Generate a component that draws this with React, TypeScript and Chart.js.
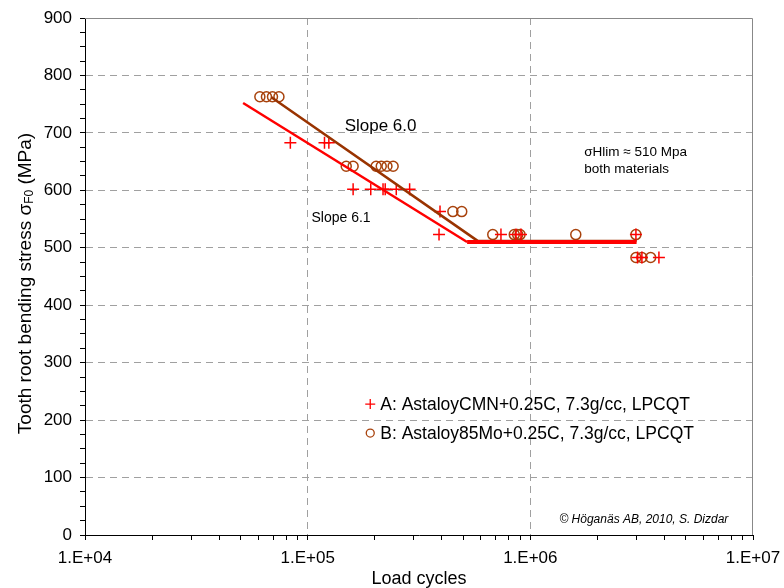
import React, { useEffect, useRef } from "react";
import { Chart, registerables } from "chart.js";

Chart.register(...registerables);

// ---- axis ticks ----
const X_DECADES = [1e4, 1e5, 1e6, 1e7];
const X_TICK_LABELS = ["1.E+04", "1.E+05", "1.E+06", "1.E+07"];
const Y_TICKS = [0, 100, 200, 300, 400, 500, 600, 700, 800, 900];

// ---- test data: A (AstaloyCMN) ----
const A_CYCLES = [8.36e4, 1.19e5, 1.245e5, 1.6e5, 1.92e5, 2.18e5, 2.23e5, 2.5e5, 2.87e5, 3.93e5, 3.89e5, 7.38e5, 8.62e5, 9.08e5, 2.98e6, 3.03e6, 3.17e6, 3.78e6];
const A_STRESS = [683, 683, 683, 602, 602, 602, 602, 602, 602, 563, 523, 523, 523, 523, 523, 483, 483, 483];

// ---- test data: B (Astaloy85Mo) ----
const B_CYCLES = [6.1e4, 6.53e4, 6.95e4, 7.43e4, 1.49e5, 1.6e5, 2.03e5, 2.14e5, 2.27e5, 2.42e5, 4.49e5, 4.92e5, 6.78e5, 8.47e5, 8.77e5, 8.99e5, 1.6e6, 2.98e6, 2.98e6, 3.17e6, 3.47e6];
const B_STRESS = [763, 763, 763, 763, 642, 642, 642, 642, 642, 642, 563, 563, 523, 523, 523, 523, 523, 523, 483, 483, 483];

// ---- fitted S-N curves ----
const FIT_A_CYCLES = [5.13e4, 5.2e5, 3.0e6];
const FIT_A_STRESS = [752, 510, 510];
const FIT_B_CYCLES = [6.87e4, 5.8e5, 3.0e6];
const FIT_B_STRESS = [762, 512, 512];

const LEGEND_LABELS = [
  "A: AstaloyCMN+0.25C, 7.3g/cc, LPCQT",
  "B: Astaloy85Mo+0.25C, 7.3g/cc, LPCQT",
];
const FIT_LABELS = ["Slope 6.1", "Slope 6.0"];

const FONT = "Arial, 'Liberation Sans', sans-serif";
const RED = "#FF0000";
const BROWN_LINE = "#993300";
const BROWN_MARK = "#A8420C";
const GRID = "#A0A0A0";

const toPoints = (xs: number[], ys: number[]) => xs.map((x, i) => ({ x, y: ys[i] }));

function buildXTicks(): number[] {
  const out: number[] = [];
  for (let d = 0; d < X_DECADES.length - 1; d++) {
    for (let m = 1; m <= 9; m++) out.push(X_DECADES[d] * m);
  }
  out.push(X_DECADES[X_DECADES.length - 1]);
  return out;
}
function buildYTicks(): number[] {
  const out: number[] = [];
  for (let i = 0; i < Y_TICKS.length - 1; i++) {
    const step = (Y_TICKS[i + 1] - Y_TICKS[i]) / 4;
    for (let k = 0; k < 4; k++) out.push(Y_TICKS[i] + k * step);
  }
  out.push(Y_TICKS[Y_TICKS.length - 1]);
  return out;
}

const decorPlugin = {
  id: "decor",
  beforeDatasetsDraw(chart: any) {
    const { ctx, chartArea } = chart;
    ctx.save();
    ctx.strokeStyle = "#888888";
    ctx.lineWidth = 1;
    ctx.beginPath();
    ctx.moveTo(chartArea.left, chartArea.top + 0.5);
    ctx.lineTo(chartArea.right - 0.5, chartArea.top + 0.5);
    ctx.lineTo(chartArea.right - 0.5, chartArea.bottom);
    ctx.stroke();
    ctx.restore();
  },
  afterDraw(chart: any) {
    const { ctx, chartArea } = chart;
    const xs = chart.scales.x;
    const ys = chart.scales.y;
    const px = (v: number) => xs.getPixelForValue(v);
    const py = (v: number) => ys.getPixelForValue(v);
    ctx.save();
    ctx.fillStyle = "#000";
    ctx.textBaseline = "alphabetic";
    ctx.textAlign = "left";

    // slope annotations
    ctx.font = `17px ${FONT}`;
    ctx.fillText(FIT_LABELS[1], px(1.466e5), py(703));
    ctx.font = `14px ${FONT}`;
    ctx.fillText(FIT_LABELS[0], px(1.04e5), py(545));

    // endurance limit note
    ctx.font = `13.5px ${FONT}`;
    ctx.fillText("σHlim ≈ 510 Mpa", px(1.745e6), py(660));
    ctx.fillText("both materials", px(1.745e6), py(630));

    // copyright
    ctx.font = `italic 12px ${FONT}`;
    ctx.textAlign = "right";
    ctx.fillText("© Höganäs AB, 2010, S. Dizdar", px(7.75e6), py(21));

    // legend
    ctx.textAlign = "left";
    ctx.font = `17.5px ${FONT}`;
    const rows = [
      { y: 228, draw: (x: number, y: number) => {
        ctx.strokeStyle = RED; ctx.lineWidth = 1.3;
        ctx.beginPath();
        ctx.moveTo(x - 5, y); ctx.lineTo(x + 5, y);
        ctx.moveTo(x, y - 5); ctx.lineTo(x, y + 5);
        ctx.stroke();
      } },
      { y: 177.5, draw: (x: number, y: number) => {
        ctx.strokeStyle = BROWN_MARK; ctx.lineWidth = 1.3;
        ctx.beginPath();
        ctx.arc(x, y, 4, 0, Math.PI * 2);
        ctx.stroke();
      } },
    ];
    rows.forEach((r, i) => {
      const mx = px(1.91e5);
      const my = py(r.y);
      r.draw(mx, my);
      ctx.fillStyle = "#000";
      ctx.fillText(LEGEND_LABELS[i], mx + 10, my + 6);
    });

    // y axis title with subscript
    const main = "Tooth root bending stress σ";
    const sub = "F0";
    const tail = " (MPa)";
    const mainFont = `19px ${FONT}`;
    const subFont = `12px ${FONT}`;
    ctx.font = mainFont;
    const w1 = ctx.measureText(main).width;
    const w3 = ctx.measureText(tail).width;
    ctx.font = subFont;
    const w2 = ctx.measureText(sub).width;
    const total = w1 + w2 + w3;
    const cy = (chartArea.top + chartArea.bottom) / 2 + 7;
    ctx.translate(31, cy);
    ctx.rotate(-Math.PI / 2);
    let cx = -total / 2;
    ctx.font = mainFont;
    ctx.fillText(main, cx, 0);
    cx += w1;
    ctx.font = subFont;
    ctx.fillText(sub, cx, 2);
    cx += w2;
    ctx.font = mainFont;
    ctx.fillText(tail, cx, 0);
    ctx.restore();
  },
};

export default function App() {
  const ref = useRef<HTMLCanvasElement | null>(null);
  useEffect(() => {
    if (!ref.current) return;
    const xTicks = buildXTicks();
    const yTicks = buildYTicks();
    const chart = new Chart(ref.current, {
      type: "scatter",
      data: {
        datasets: [
          {
            label: FIT_LABELS[0],
            data: toPoints(FIT_A_CYCLES, FIT_A_STRESS),
            showLine: true,
            borderColor: RED,
            borderWidth: 2.5,
            pointRadius: 0,
            segment: {
              borderWidth: (c: any) => (c.p0.parsed.y === c.p1.parsed.y ? 4 : 2.5),
            },
          },
          {
            label: FIT_LABELS[1],
            data: toPoints(FIT_B_CYCLES, FIT_B_STRESS),
            showLine: true,
            borderColor: BROWN_LINE,
            borderWidth: 2.5,
            pointRadius: 0,
          },
          {
            label: LEGEND_LABELS[0],
            data: toPoints(A_CYCLES, A_STRESS),
            pointStyle: "cross",
            pointRadius: 6,
            borderColor: RED,
            backgroundColor: RED,
            pointBorderWidth: 1.5,
          },
          {
            label: LEGEND_LABELS[1],
            data: toPoints(B_CYCLES, B_STRESS),
            pointStyle: "circle",
            pointRadius: 5,
            borderColor: BROWN_MARK,
            backgroundColor: "rgba(0,0,0,0)",
            pointBorderWidth: 1.5,
          },
        ] as any,
      },
      options: {
        responsive: false,
        animation: false,
        events: [],
        layout: { padding: { top: 18, right: 31, left: 0, bottom: 0 } },
        plugins: { legend: { display: false }, tooltip: { enabled: false } },
        scales: {
          x: {
            type: "logarithmic",
            min: X_DECADES[0],
            max: X_DECADES[X_DECADES.length - 1],
            afterBuildTicks: (s: any) => { s.ticks = xTicks.map((v) => ({ value: v })); },
            afterFit: (s: any) => { s.height = 53; s.paddingLeft = 0; s.paddingRight = 0; },
            ticks: {
              autoSkip: false,
              maxRotation: 0,
              minRotation: 0,
              padding: 8,
              color: "#000",
              font: { family: FONT, size: 17 },
              callback: (v: any) => {
                const i = X_DECADES.indexOf(Number(v));
                return i >= 0 ? X_TICK_LABELS[i] : "";
              },
            },
            grid: {
              color: (c: any) => {
                const v = c.tick ? c.tick.value : null;
                return v === X_DECADES[1] || v === X_DECADES[2] ? GRID : "rgba(0,0,0,0)";
              },
              tickColor: "#000",
              tickLength: 5,
              lineWidth: 1,
            },
            border: { display: true, color: "#000", width: 1, dash: [7, 5] },
            title: {
              display: true,
              text: "Load cycles",
              color: "#000",
              font: { family: FONT, size: 18 },
              padding: { top: 0, bottom: -2 },
            },
          },
          y: {
            type: "linear",
            min: Y_TICKS[0],
            max: Y_TICKS[Y_TICKS.length - 1],
            afterBuildTicks: (s: any) => { s.ticks = yTicks.map((v) => ({ value: v })); },
            afterFit: (s: any) => { s.width = 85; s.paddingTop = 0; s.paddingBottom = 0; },
            ticks: {
              autoSkip: false,
              padding: 8,
              color: "#000",
              font: { family: FONT, size: 17 },
              callback: (v: any) => (Y_TICKS.includes(Number(v)) ? String(v) : ""),
            },
            grid: {
              color: (c: any) => {
                const v = c.tick ? c.tick.value : null;
                return v !== null && Y_TICKS.includes(v) && v > Y_TICKS[0] && v < Y_TICKS[Y_TICKS.length - 1]
                  ? GRID
                  : "rgba(0,0,0,0)";
              },
              tickColor: "#000",
              tickLength: 5,
              lineWidth: 1,
            },
            border: { display: true, color: "#000", width: 1, dash: [7, 5] },
            title: { display: false },
          },
        },
      } as any,
      plugins: [decorPlugin],
    });
    return () => chart.destroy();
  }, []);

  return (
    <div style={{ position: "absolute", left: 0, top: 0, width: 784, height: 588, background: "#fff" }}>
      <canvas ref={ref} width={784} height={588} style={{ display: "block", width: 784, height: 588 }} />
    </div>
  );
}
